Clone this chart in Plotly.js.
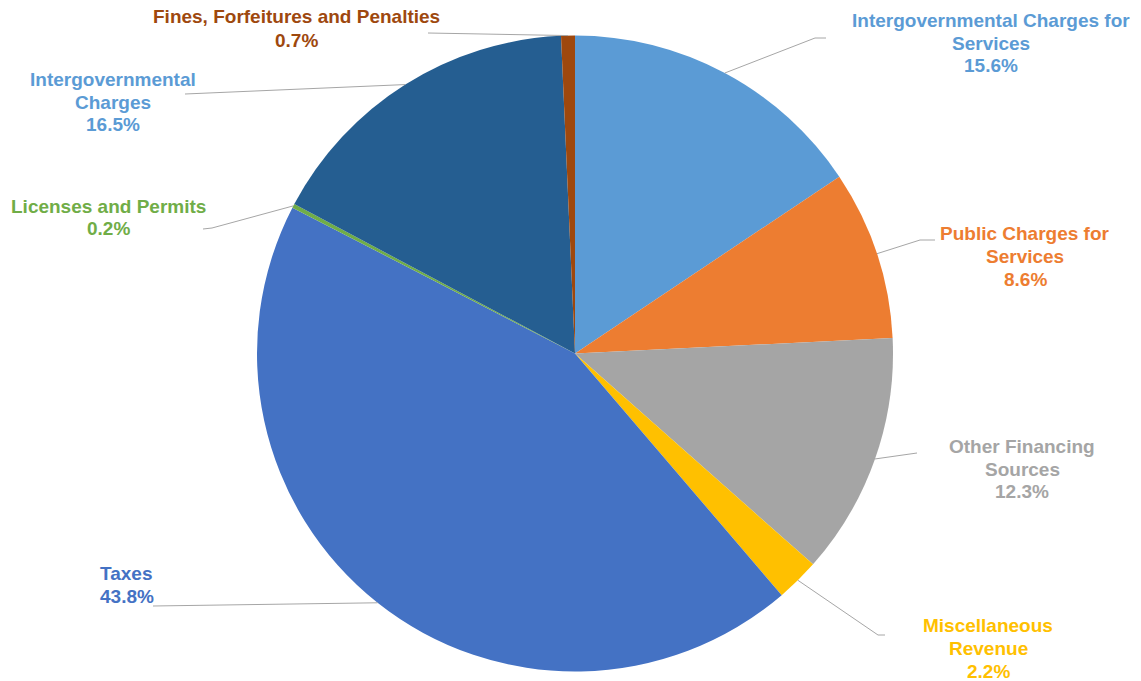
<!DOCTYPE html>
<html>
<head>
<meta charset="utf-8">
<script src="https://cdn.plot.ly/plotly-3.0.1.min.js"></script>
<style>html,body{margin:0;padding:0;background:#fff;}#chart{width:1141px;height:681px;}</style>
</head>
<body>
<div id="chart"></div>
<script>
// ---- data ----
const categories = [
  "Intergovernmental Charges for Services",
  "Public Charges for Services",
  "Other Financing Sources",
  "Miscellaneous Revenue",
  "Taxes",
  "Licenses and Permits",
  "Intergovernmental Charges",
  "Fines, Forfeitures and Penalties"
];
const values = [15.6, 8.6, 12.3, 2.2, 43.8, 0.2, 16.5, 0.7];
const sliceColors = ["#5B9BD5", "#ED7D31", "#A5A5A5", "#FFC000", "#4472C4", "#70AD47", "#255E91", "#9E480E"];
const labelColors = ["#5B9BD5", "#ED7D31", "#A5A5A5", "#FFC000", "#4472C4", "#70AD47", "#5B9BD5", "#9E480E"];
const labelLines = [
  ["Intergovernmental Charges for", "Services"],
  ["Public Charges for", "Services"],
  ["Other Financing", "Sources"],
  ["Miscellaneous", "Revenue"],
  ["Taxes"],
  ["Licenses and Permits"],
  ["Intergovernmental", "Charges"],
  ["Fines, Forfeitures and Penalties"]
];

// ---- layout constants (pixels) ----
const W = 1141, H = 681;
const CX = 575, CY = 353.5, R = 318;
// label block: center x, first-line y, alignment
const labelPos = [
  [991, 20, "center"], [1025, 233, "center"], [1022, 446, "center"], [988, 625, "center"],
  [98, 573, "left"], [108, 206, "center"], [113, 79, "center"], [297, 17, "center"]
];
// leader line waypoints after the pie-edge point
const leaderPts = [
  [[815, 38], [826, 38]],
  [[920, 240], [935, 240]],
  [[917, 453]],
  [[878, 635], [885, 635]],
  [[153, 606]],
  [[212, 228], [203, 229]],
  [[185, 94]],
  [[428, 33]]
];
const LINE_H = 23;

const px = x => x / W;
const py = y => 1 - y / H;

const total = values.reduce((a, b) => a + b, 0);
const annotations = [];
const shapes = [];
let cum = 0;
values.forEach((v, i) => {
  const mid = (cum + v / 2) / total * 2 * Math.PI;
  cum += v;
  const ex = CX + R * Math.sin(mid), ey = CY - R * Math.cos(mid);
  const pts = [[ex, ey]].concat(leaderPts[i]);
  let d = "M" + px(pts[0][0]) + "," + py(pts[0][1]);
  for (let k = 1; k < pts.length; k++) d += " L" + px(pts[k][0]) + "," + py(pts[k][1]);
  shapes.push({type: "path", xref: "paper", yref: "paper", path: d, line: {color: "#A6A6A6", width: 1}});
  const lines = labelLines[i].concat([v.toFixed(1) + "%"]);
  const [lx, ly, al] = labelPos[i];
  lines.forEach((t, k) => {
    annotations.push({
      xref: "paper", yref: "paper", x: px(lx), y: py(ly + k * LINE_H),
      xanchor: al === "left" ? "left" : "center", yanchor: "middle",
      text: "<b>" + t + "</b>", showarrow: false,
      font: {family: "Liberation Sans, Arial, sans-serif", size: 19, color: labelColors[i]}
    });
  });
});

const trace = {
  type: "pie",
  labels: categories,
  values: values,
  sort: false,
  direction: "clockwise",
  rotation: 0,
  textinfo: "none",
  hoverinfo: "label+percent",
  marker: {colors: sliceColors, line: {width: 0}},
  domain: {x: [px(CX - R), px(CX + R)], y: [py(CY + R), py(CY - R)]},
  showlegend: false
};

Plotly.newPlot("chart", [trace], {
  width: W, height: H,
  margin: {l: 0, r: 0, t: 0, b: 0},
  paper_bgcolor: "#ffffff",
  showlegend: false,
  annotations: annotations,
  shapes: shapes
}, {displayModeBar: false, staticPlot: true});
</script>
</body>
</html>
